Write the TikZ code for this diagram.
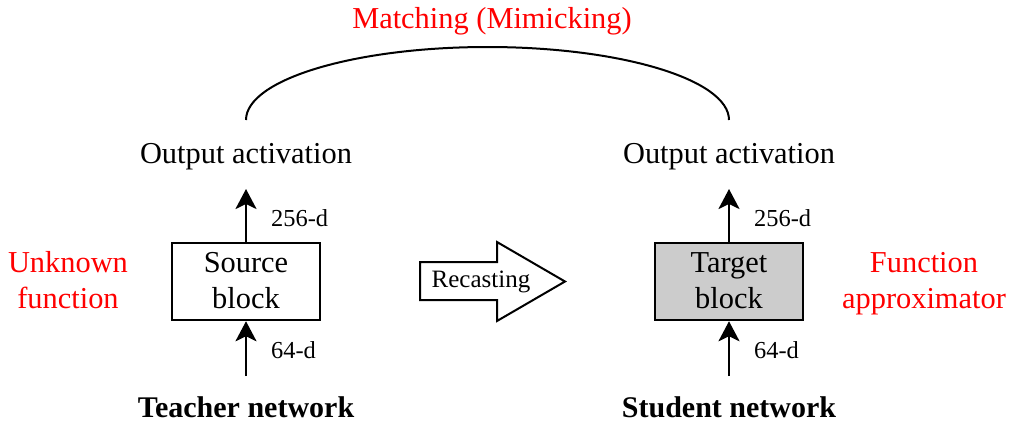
\documentclass[tikz,border=0pt]{standalone}
\usepackage{fontspec}
\setmainfont{Liberation Serif}
\usetikzlibrary{arrows.meta}
\definecolor{blockgray}{HTML}{CCCCCC}
% taller strut, to lower the text inside the blocks a little
\newcommand\tallstrut{\rule{0pt}{28.4pt}}
\begin{document}
\begin{tikzpicture}[x=1pt,y=1pt,
  txt/.style={inner sep=0pt, font=\fontsize{30.4}{36}\selectfont, align=center},
  lineone/.style={txt, anchor=base},
  redtxt/.style={txt, text=red},
  headtxt/.style={inner sep=0pt, anchor=base, font=\fontsize{30}{36}\selectfont\bfseries},
  dimtxt/.style={inner sep=0pt, anchor=base west, font=\fontsize{24.4}{29}\selectfont},
  blockbox/.style={txt, draw, line width=2.5pt, minimum width=148pt, minimum height=77pt},
  flow/.style={line width=2.5pt, -{Stealth[length=20pt,width=21pt,inset=5pt]}}
]
\useasboundingbox (0,0) rectangle (1012,-424);

% matching arc and its label
\node[lineone, text=red] (match) at (492,-28.5) {Matching (Mimicking)};
\coordinate (arcL) at (246,-120);
\draw[line width=2pt] (arcL) arc[start angle=180, end angle=0, x radius=241.5, y radius=73] coordinate (arcR);

% teacher side
\node[lineone] (outL) at (246,-163.3) {Output activation};
\node[blockbox] (src) at (246,-281.5) {\tallstrut Source\\\strut block};
\coordinate (inL) at (246,-376);
\coordinate (tipL) at (246,-189);
\draw[flow] (inL) -- (src.south);
\draw[flow] (src.north) -- (tipL);
\node[dimtxt] (dimLo) at (271,-226.7) {256-d};
\node[dimtxt] (dimLi) at (271,-358.3) {64-d};
\node[headtxt] (teacher) at (246,-417.5) {Teacher network};
\node[redtxt] (unknown) at (68,-283.1) {\strut Unknown\\\strut function};

% recasting arrow
\draw[line width=2pt, line join=miter] (420,-262) -- (497,-262) -- (497,-242) -- (565,-281.5)
  -- (497,-321) -- (497,-300) -- (420,-300) -- cycle;
\node[inner sep=0pt, anchor=base, font=\fontsize{25}{30}\selectfont] (recast) at (481,-287.7) {Recasting};

% student side
\node[lineone] (outR) at (729,-163.3) {Output activation};
\node[blockbox, fill=blockgray] (tgt) at (729,-281.5) {\tallstrut Target\\\strut block};
\coordinate (inR) at (729,-376);
\coordinate (tipR) at (729,-189);
\draw[flow] (inR) -- (tgt.south);
\draw[flow] (tgt.north) -- (tipR);
\node[dimtxt] (dimRo) at (754,-226.7) {256-d};
\node[dimtxt] (dimRi) at (754,-358.3) {64-d};
\node[headtxt] (student) at (729,-417.5) {Student network};
\node[redtxt] (approx) at (924,-283.1) {\strut Function\\\strut approximator};
\end{tikzpicture}
\end{document}
